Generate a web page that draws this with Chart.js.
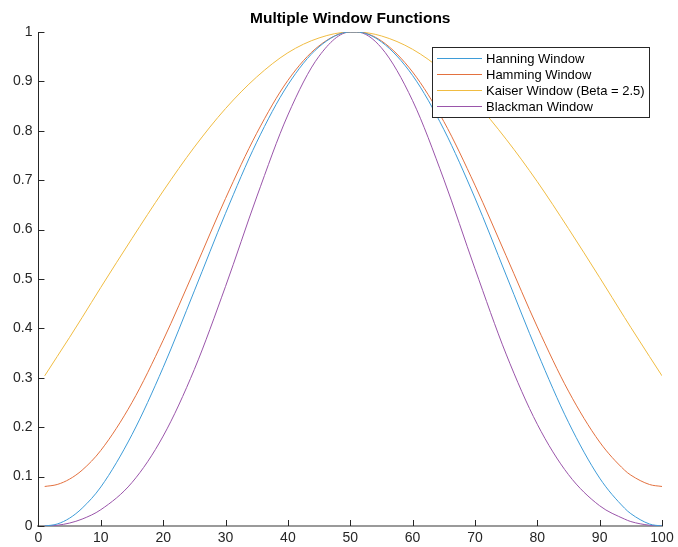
<!DOCTYPE html>
<html>
<head>
<meta charset="utf-8">
<script src="https://cdn.jsdelivr.net/npm/chart.js@4/dist/chart.umd.min.js"></script>
<style>
  html, body { margin: 0; padding: 0; background: #fff; }
  #wrap { width: 678px; height: 547px; }
</style>
</head>
<body>
<div id="wrap"><canvas id="chart"></canvas></div>
<script>
// sample positions (window index)
const xs = [1, 3, 5, 7, 10, 15, 20, 25, 30, 35, 40, 45, 50, 51, 55, 60, 65, 70, 75, 80, 85, 90, 94, 95, 98, 100];

const hanning  = [0, 0.004, 0.016, 0.036, 0.079, 0.185, 0.321, 0.476, 0.633, 0.777, 0.893, 0.970, 1.000, 1.000, 0.980, 0.912, 0.803, 0.664, 0.508, 0.352, 0.210, 0.097, 0.036, 0.025, 0.004, 0];
const hamming  = [0.08, 0.084, 0.095, 0.113, 0.153, 0.250, 0.376, 0.518, 0.663, 0.795, 0.902, 0.972, 1.000, 1.000, 0.982, 0.919, 0.819, 0.690, 0.547, 0.403, 0.273, 0.170, 0.113, 0.103, 0.084, 0.08];
const kaiser   = [0.304, 0.343, 0.382, 0.422, 0.483, 0.582, 0.678, 0.767, 0.845, 0.909, 0.958, 0.988, 1.000, 1.000, 0.992, 0.965, 0.920, 0.859, 0.783, 0.697, 0.602, 0.503, 0.422, 0.402, 0.343, 0.304];
const blackman = [0, 0.0015, 0.006, 0.014, 0.033, 0.088, 0.182, 0.317, 0.485, 0.666, 0.832, 0.951, 1.000, 1.000, 0.968, 0.861, 0.702, 0.521, 0.348, 0.206, 0.104, 0.041, 0.014, 0.009, 0.0015, 0];

const seriesLabels = ['Hanning Window', 'Hamming Window', 'Kaiser Window (Beta = 2.5)', 'Blackman Window'];
const xTicks = [0, 10, 20, 30, 40, 50, 60, 70, 80, 90, 100];
const yTicks = [0, 0.1, 0.2, 0.3, 0.4, 0.5, 0.6, 0.7, 0.8, 0.9, 1];
const titleText = 'Multiple Window Functions';

const colors = ['#3E9CD8', '#E3713F', '#F0BC42', '#9A55AA'];
const axisColor = '#262626';
const fontFamily = '"Liberation Sans", Arial, Helvetica, sans-serif';

const toPoints = (ys) => xs.map((x, i) => ({ x: x, y: ys[i] }));

// MATLAB-ish inward ticks, title over the plot box, boxed legend
const matlabBits = {
  id: 'matlabBits',
  afterDraw(chart) {
    const ctx = chart.ctx;
    const area = chart.chartArea;
    const xs_ = chart.scales.x;
    const ys_ = chart.scales.y;
    ctx.save();

    ctx.strokeStyle = axisColor;
    ctx.lineWidth = 1;
    ctx.beginPath();
    xTicks.forEach(v => {
      const px = Math.round(xs_.getPixelForValue(v)) + 0.5;
      ctx.moveTo(px, area.bottom);
      ctx.lineTo(px, area.bottom - 6);
    });
    yTicks.forEach(v => {
      const py = Math.round(ys_.getPixelForValue(v)) + 0.5;
      ctx.moveTo(area.left, py);
      ctx.lineTo(area.left + 6, py);
    });
    ctx.stroke();

    // title
    ctx.fillStyle = '#000';
    ctx.font = 'bold 15.5px ' + fontFamily;
    ctx.textAlign = 'center';
    ctx.textBaseline = 'middle';
    ctx.fillText(titleText, (area.left + area.right) / 2, 19);

    // legend
    const bx = area.right - 230, by = area.top + 15, bw = 217, bh = 70;
    ctx.fillStyle = '#fff';
    ctx.fillRect(bx, by, bw, bh);
    ctx.strokeStyle = '#262626';
    ctx.lineWidth = 1;
    ctx.strokeRect(bx + 0.5, by + 0.5, bw, bh);
    ctx.font = '13px ' + fontFamily;
    ctx.textAlign = 'left';
    ctx.textBaseline = 'middle';
    chart.data.datasets.forEach((ds, i) => {
      const ry = by + 11 + i * 16;
      ctx.strokeStyle = ds.borderColor;
      ctx.beginPath();
      ctx.moveTo(bx + 5, ry + 0.5);
      ctx.lineTo(bx + 50, ry + 0.5);
      ctx.stroke();
      ctx.fillStyle = '#000';
      ctx.fillText(ds.label, bx + 54, ry + 1);
    });
    ctx.restore();
  }
};

const ds = (label, ys, color) => ({
  label: label,
  data: toPoints(ys),
  borderColor: color,
  backgroundColor: color,
  borderWidth: 1,
  pointRadius: 0,
  cubicInterpolationMode: 'monotone',
  fill: false
});

new Chart(document.getElementById('chart'), {
  type: 'line',
  data: {
    datasets: [
      ds(seriesLabels[0], hanning, colors[0]),
      ds(seriesLabels[1], hamming, colors[1]),
      ds(seriesLabels[2], kaiser, colors[2]),
      ds(seriesLabels[3], blackman, colors[3])
    ]
  },
  options: {
    responsive: true,
    maintainAspectRatio: false,
    animation: false,
    layout: { padding: { left: 7, right: 16, top: 32, bottom: 0 } },
    plugins: {
      legend: { display: false },
      title: { display: false },
      tooltip: { enabled: false }
    },
    scales: {
      x: {
        type: 'linear',
        min: 0,
        max: 100,
        afterBuildTicks: (scale) => { scale.ticks = xTicks.map(v => ({ value: v })); },
        afterFit: (scale) => { scale.height = 21; },
        grid: { display: false, drawTicks: false },
        border: { display: true, color: '#9a9a9a', width: 2 },
        ticks: {
          color: axisColor,
          padding: 4,
          maxRotation: 0,
          font: { family: fontFamily, size: 14 }
        }
      },
      y: {
        type: 'linear',
        min: 0,
        max: 1,
        afterBuildTicks: (scale) => { scale.ticks = yTicks.map(v => ({ value: v })); },
        grid: { display: false, drawTicks: false },
        border: { display: true, color: axisColor, width: 1 },
        ticks: {
          color: axisColor,
          padding: 6,
          font: { family: fontFamily, size: 14 },
          callback: (v) => String(Math.round(v * 10) / 10)
        }
      }
    }
  },
  plugins: [matlabBits]
});
</script>
</body>
</html>
